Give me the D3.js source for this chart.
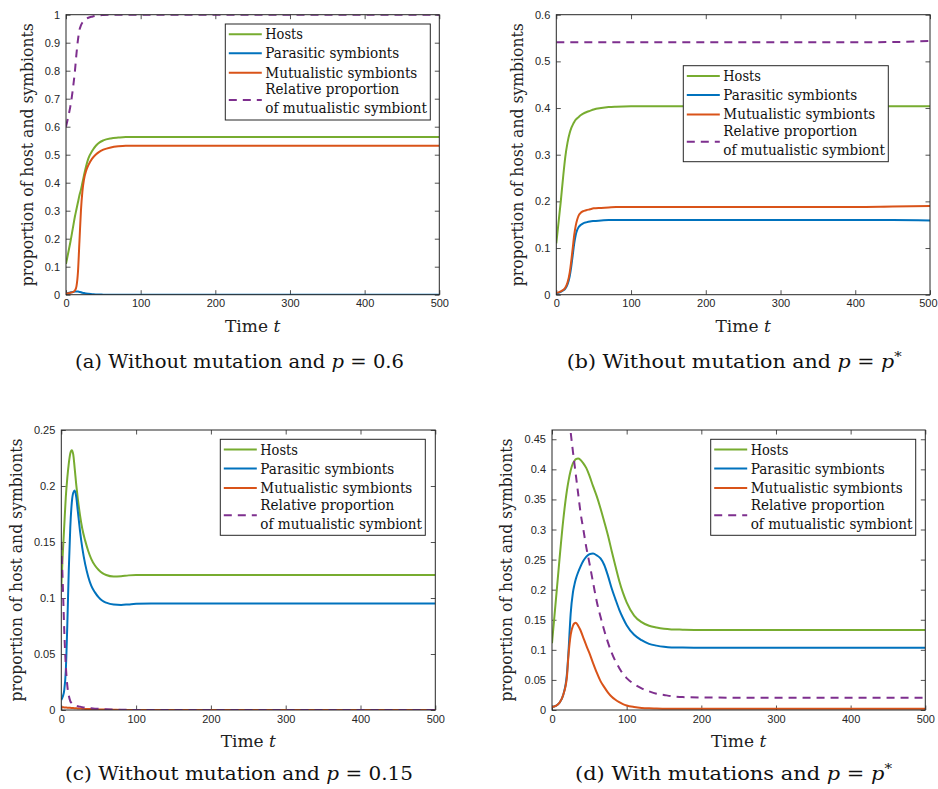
<!DOCTYPE html>
<html><head><meta charset="utf-8">
<script src="https://cdn.jsdelivr.net/npm/d3@7"></script>
<style>body{margin:0;background:#fff}svg{display:block}</style>
</head><body>
<script>
// ---------- DATA ----------
const xTicks = [0, 100, 200, 300, 400, 500];
const legendLabels = ["Hosts", "Parasitic symbionts", "Mutualistic symbionts", "Relative proportion", "of mutualistic symbiont"];

// (a) Without mutation and p = 0.6
const tA     = [0,3,6,9,12,14,16,18,20,22,24,27,30,35,40,45,50,60,70,80,100,200,300,400,500];
const hostsA = [0.11,0.15,0.19,0.235,0.28,0.305,0.33,0.355,0.375,0.40,0.425,0.46,0.487,0.513,0.532,0.544,0.551,0.558,0.561,0.563,0.563,0.563,0.563,0.563,0.563];
const paraA  = [0.004,0.006,0.008,0.010,0.011,0.011,0.011,0.010,0.009,0.007,0.006,0.004,0.003,0.002,0.001,0.001,0,0,0,0,0,0,0,0,0];
const mutA   = [0.004,0.005,0.007,0.009,0.015,0.03,0.08,0.19,0.30,0.37,0.41,0.443,0.463,0.486,0.501,0.511,0.518,0.526,0.530,0.532,0.532,0.532,0.532,0.532,0.532];
const relA   = [0.60,0.635,0.675,0.73,0.80,0.86,0.91,0.945,0.962,0.972,0.979,0.985,0.989,0.993,0.996,0.998,0.999,1,1,1,1,1,1,1,1];
const yTicksA = [0,0.1,0.2,0.3,0.4,0.5,0.6,0.7,0.8,0.9,1];

// (b) Without mutation and p = p*
const tB     = [0,3,6,9,12,15,18,20,22,24,26,28,30,33,36,40,45,50,60,70,80,100,200,300,400,450,500];
const hostsB = [0.11,0.155,0.20,0.25,0.295,0.326,0.347,0.357,0.364,0.37,0.375,0.378,0.381,0.385,0.388,0.391,0.394,0.397,0.400,0.402,0.403,0.404,0.404,0.404,0.404,0.404,0.404];
const paraB  = [0.003,0.004,0.006,0.009,0.013,0.022,0.04,0.06,0.085,0.11,0.128,0.139,0.145,0.15,0.153,0.155,0.157,0.158,0.159,0.16,0.16,0.16,0.16,0.16,0.16,0.16,0.159];
const mutB   = [0.004,0.005,0.007,0.01,0.015,0.026,0.048,0.072,0.10,0.128,0.148,0.161,0.17,0.176,0.179,0.181,0.183,0.185,0.186,0.187,0.188,0.188,0.188,0.188,0.188,0.189,0.19];
const relB   = [0.541,0.541,0.541,0.541,0.541,0.541,0.541,0.541,0.541,0.541,0.541,0.541,0.541,0.541,0.541,0.541,0.541,0.541,0.541,0.541,0.541,0.541,0.541,0.541,0.541,0.5415,0.5435];
const yTicksB = [0,0.1,0.2,0.3,0.4,0.5,0.6];

// (c) Without mutation and p = 0.15
const tC     = [0,2,4,6,8,10,12,14,16,18,20,22,25,28,32,36,40,45,50,55,60,70,80,90,100,120,150,200,300,400,500];
const hostsC = [0.11,0.14,0.165,0.19,0.207,0.22,0.229,0.232,0.228,0.215,0.201,0.189,0.174,0.162,0.151,0.142,0.135,0.129,0.125,0.1222,0.1205,0.1192,0.1195,0.1202,0.1205,0.1206,0.1205,0.1205,0.1205,0.1205,0.1205];
const paraC  = [0.009,0.012,0.018,0.035,0.075,0.125,0.163,0.185,0.194,0.196,0.19,0.178,0.16,0.145,0.13,0.119,0.111,0.105,0.1005,0.0975,0.0958,0.0941,0.0938,0.0943,0.0948,0.095,0.095,0.095,0.095,0.095,0.095];
const mutC   = [0.0025,0.0024,0.0023,0.0022,0.0021,0.002,0.0019,0.0018,0.0017,0.0016,0.0015,0.0014,0.0013,0.0012,0.001,0.0009,0.0008,0.0006,0.0005,0.0004,0.0003,0.0002,0.0001,0.0001,0,0,0,0,0,0,0];
const relC   = [0.15,0.112,0.07,0.04,0.022,0.013,0.008,0.006,0.0048,0.0042,0.0037,0.0034,0.003,0.0025,0.0021,0.0018,0.0015,0.0012,0.001,0.0008,0.0006,0.0004,0.0002,0.0001,0,0,0,0,0,0,0];
const yTicksC = [0,0.05,0.1,0.15,0.2,0.25];

// (d) With mutations and p = p*
const tD     = [0,5,10,15,20,22,25,28,30,32,35,38,42,46,50,55,60,65,70,75,80,85,90,95,100,110,120,130,140,150,160,175,200,250,300,400,500];
const hostsD = [0.111,0.18,0.25,0.315,0.365,0.38,0.398,0.41,0.414,0.417,0.418,0.416,0.41,0.402,0.39,0.372,0.355,0.335,0.313,0.29,0.264,0.239,0.215,0.195,0.179,0.157,0.146,0.14,0.137,0.135,0.134,0.1335,0.133,0.133,0.133,0.133,0.133];
const paraD  = [0.005,0.007,0.012,0.025,0.06,0.095,0.16,0.195,0.208,0.218,0.229,0.238,0.248,0.255,0.259,0.26,0.257,0.252,0.241,0.223,0.202,0.184,0.167,0.153,0.141,0.125,0.116,0.11,0.107,0.105,0.104,0.1037,0.1035,0.1035,0.1035,0.1035,0.1035];
const mutD   = [0.005,0.007,0.012,0.025,0.055,0.09,0.125,0.14,0.144,0.145,0.14,0.133,0.12,0.107,0.095,0.078,0.062,0.048,0.038,0.029,0.022,0.017,0.013,0.0098,0.0075,0.005,0.0035,0.0028,0.0025,0.0022,0.0021,0.002,0.002,0.002,0.002,0.002,0.002];
const relD   = [null,null,null,null,0.53,0.50,0.462,0.43,0.41,0.39,0.36,0.33,0.30,0.27,0.245,0.212,0.18,0.155,0.132,0.112,0.095,0.081,0.07,0.06,0.053,0.043,0.036,0.031,0.027,0.025,0.023,0.0215,0.0208,0.0205,0.0205,0.0205,0.0205];
const yTicksD = [0,0.05,0.1,0.15,0.2,0.25,0.3,0.35,0.4,0.45];

// ---------- STYLE / LAYOUT ----------
const colors = {hosts:"#77AC30", para:"#0072BD", mut:"#D95319", rel:"#7E2F8E"};
const AX = "#262626";
const serif = "'DejaVu Serif',serif";
const sans = "'Liberation Sans',Arial,Helvetica,sans-serif";

const panels = [
  {id:"a", box:[66,439.3,14.7,294.7], yMax:1, yTicks:yTicksA, t:tA, s:[hostsA,paraA,mutA,relA], leg:[225.3,24],
   ylabX:33, cap:{x:75,y:368,w:329,parts:[["(a) Without mutation and ",""],["p","i"],[" = 0.6",""]]}},
  {id:"b", box:[556.3,930,14.7,294.7], yMax:0.6, yTicks:yTicksB, t:tB, s:[hostsB,paraB,mutB,relB], leg:[683.3,65.7],
   ylabX:523, cap:{x:566.7,y:368,w:335,parts:[["(b) Without mutation and ",""],["p","i"],[" = ",""],["p","i"],["*","sup"]]}},
  {id:"c", box:[61.3,435.3,430,710], yMax:0.25, yTicks:yTicksC, t:tC, s:[hostsC,paraC,mutC,relC], leg:[220.3,439.3],
   ylabX:22, cap:{x:65,y:780,w:348,parts:[["(c) Without mutation and ",""],["p","i"],[" = 0.15",""]]}},
  {id:"d", box:[552,925.3,430,710], yMax:0.4654, yTicks:yTicksD, t:tD, s:[hostsD,paraD,mutD,relD], leg:[710.7,439.3],
   ylabX:512, cap:{x:575,y:780,w:317,parts:[["(d) With mutations and ",""],["p","i"],[" = ",""],["p","i"],["*","sup"]]}}
];

const svg = d3.select("body").append("svg").attr("width",938).attr("height",789);

panels.forEach(p => {
  const [x0,x1,y0,y1] = p.box;
  const x = d3.scaleLinear().domain([0,500]).range([x0,x1]);
  const y = d3.scaleLinear().domain([0,p.yMax]).range([y1,y0]);
  const g = svg.append("g");

  const cid = "clip"+p.id;
  svg.append("clipPath").attr("id",cid).append("rect")
    .attr("x",x0).attr("y",y0).attr("width",x1-x0).attr("height",y1-y0);

  const mk = (axis, tr, labels) => {
    const a = g.append("g").attr("transform",tr).call(axis);
    a.select(".domain").remove();
    a.selectAll(".tick line").attr("stroke",AX).attr("stroke-width",0.8);
    a.selectAll(".tick text").attr("fill",AX).style("font-family",sans).style("font-size","11px");
    if(!labels) a.selectAll(".tick text").remove();
    return a;
  };
  const fmt = d3.format("~g");
  const xb = mk(d3.axisBottom(x).tickValues(xTicks).tickFormat(fmt).tickSizeInner(-4.5).tickSizeOuter(0).tickPadding(5), `translate(0,${y1})`, true);
  mk(d3.axisTop(x).tickValues(xTicks).tickSizeInner(-4.5).tickSizeOuter(0), `translate(0,${y0})`, false);
  mk(d3.axisLeft(y).tickValues(p.yTicks).tickFormat(fmt).tickSizeInner(-4.5).tickSizeOuter(0).tickPadding(6), `translate(${x0},0)`, true);
  mk(d3.axisRight(y).tickValues(p.yTicks).tickSizeInner(-4.5).tickSizeOuter(0), `translate(${x1},0)`, false);
  xb.selectAll(".tick").each(function(d){
    const txt = d3.select(this).select("text");
    const w = txt.node().getComputedTextLength();
    const right = x(d) + w/2;
    if (right > 937) txt.attr("dx", (937-right)+"px");
  });

  const lines = g.append("g").attr("clip-path",`url(#${cid})`);
  const keys = ["hosts","para","mut","rel"];
  p.s.forEach((vals,i) => {
    const pts = p.t.map((tt,j)=>[tt,vals[j]]);
    const line = d3.line().defined(d=>d[1]!==null).x(d=>x(d[0])).y(d=>y(d[1])).curve(d3.curveMonotoneX);
    lines.append("path").attr("d",line(pts)).attr("fill","none")
      .attr("stroke",colors[keys[i]]).attr("stroke-width",2)
      .attr("stroke-dasharray", keys[i]==="rel" ? "8,6" : null);
  });

  g.append("rect").attr("x",x0).attr("y",y0).attr("width",x1-x0).attr("height",y1-y0)
    .attr("fill","none").attr("stroke",AX).attr("stroke-width",1);

  g.append("text").attr("x",(x0+x1)/2).attr("y",y1+37).attr("text-anchor","middle")
    .style("font-family",serif).style("font-size","17px").attr("fill","#222")
    .call(t=>{t.append("tspan").text("Time "); t.append("tspan").style("font-style","italic").text("t");});
  g.append("text").attr("transform",`translate(${p.ylabX},${(y0+y1)/2}) rotate(-90)`).attr("text-anchor","middle")
    .style("font-family",serif).style("font-size","16px").attr("fill","#222")
    .attr("textLength",263).attr("lengthAdjust","spacingAndGlyphs")
    .text("proportion of host and symbionts");

  const [lx,ly] = p.leg;
  const lg = g.append("g");
  lg.append("rect").attr("x",lx).attr("y",ly).attr("width",205).attr("height",96)
    .attr("fill","#fff").attr("stroke",AX).attr("stroke-width",1);
  const sampleY = [10.3,29.3,48.7,76];
  keys.forEach((k,i)=>{
    lg.append("line").attr("x1",lx+3.5).attr("x2",lx+36.5).attr("y1",ly+sampleY[i]).attr("y2",ly+sampleY[i])
      .attr("stroke",colors[k]).attr("stroke-width",2).attr("stroke-dasharray",k==="rel"?"8,6":null);
  });
  const textY = [15.3,34.3,53.7,70.3,89.3];
  const textW = [37.7,134,152,134,161.7];
  legendLabels.forEach((lab,i)=>{
    lg.append("text").attr("x",lx+40).attr("y",ly+textY[i]).style("font-family",serif).style("font-size","14px")
      .attr("fill","#111").attr("textLength",textW[i]).attr("lengthAdjust","spacingAndGlyphs").text(lab);
  });

  const c = svg.append("text").attr("x",p.cap.x).attr("y",p.cap.y).style("font-family",serif).style("font-size","18px")
    .attr("fill","#111").attr("textLength",p.cap.w).attr("lengthAdjust","spacingAndGlyphs");
  p.cap.parts.forEach(([txt,st])=>{
    const ts = c.append("tspan").text(txt);
    if(st==="i") ts.style("font-style","italic");
    if(st==="sup") ts.attr("dy",-7).style("font-size","13px");
  });
});
</script>
</body></html>
